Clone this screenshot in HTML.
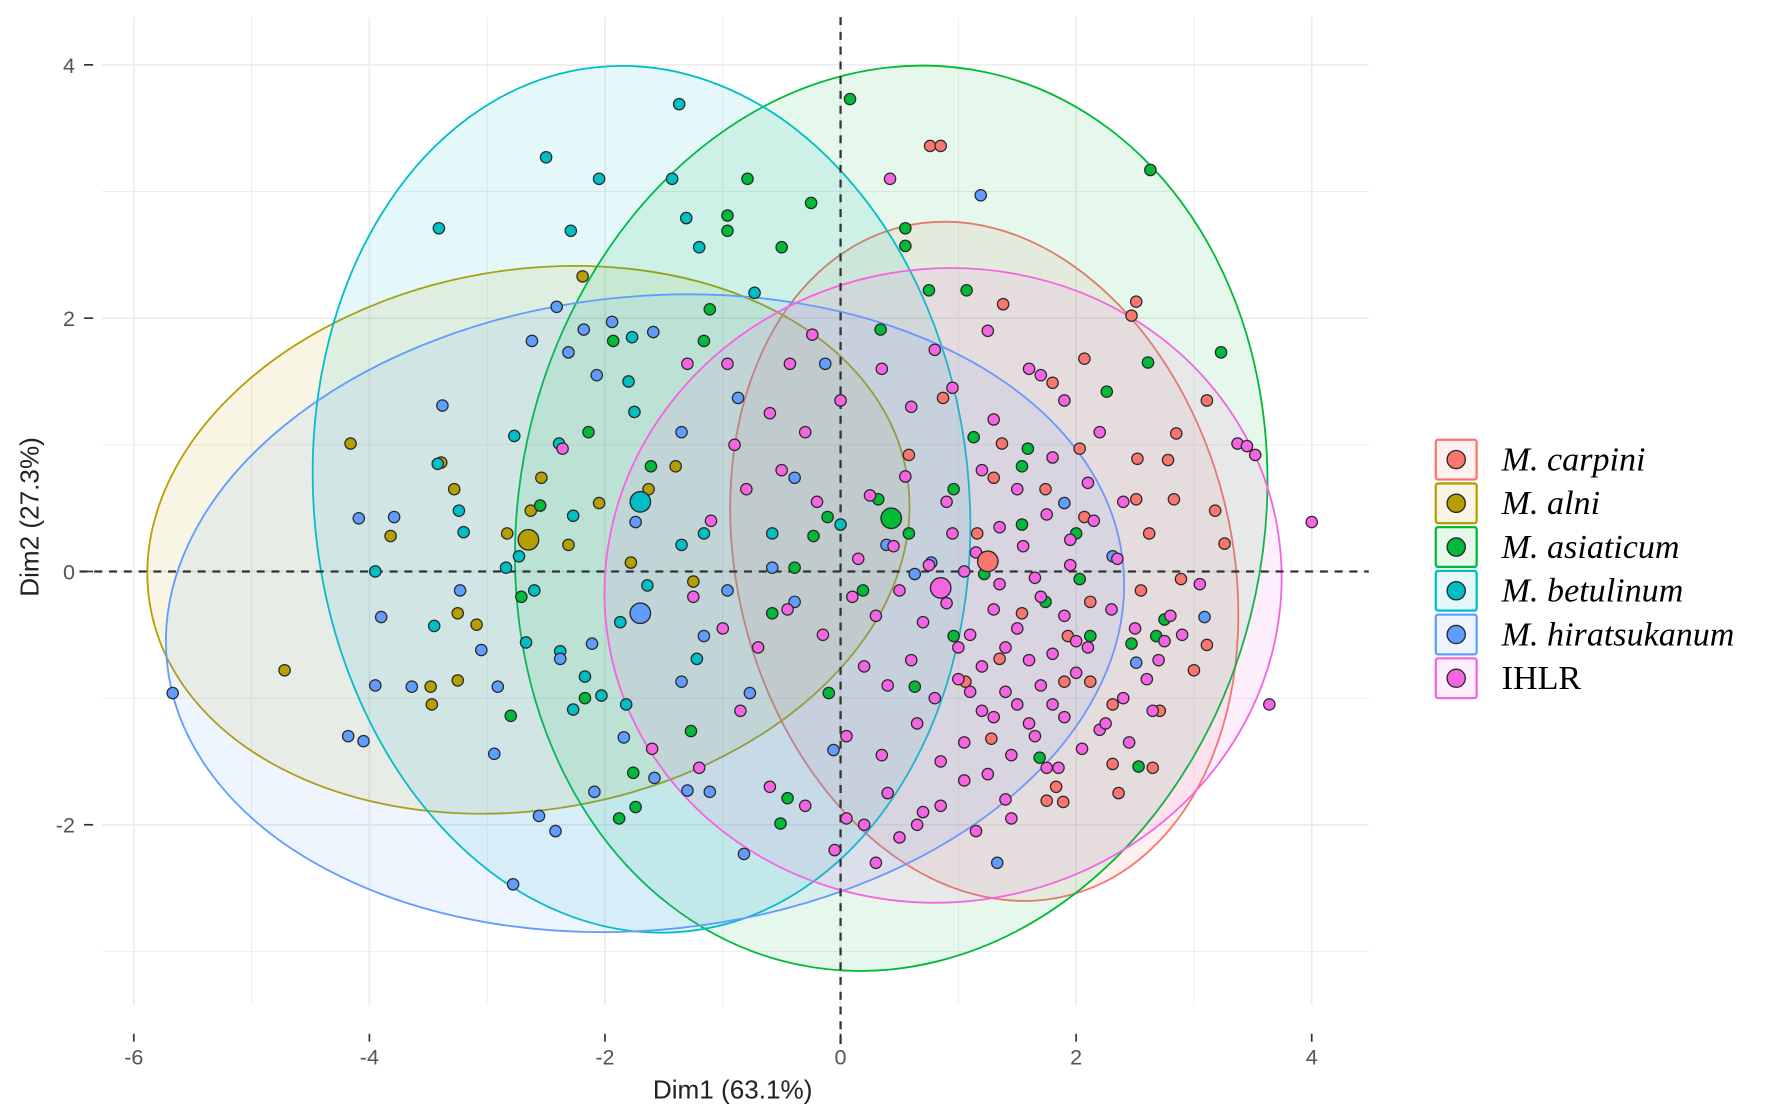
<!DOCTYPE html>
<html><head><meta charset="utf-8"><style>
html,body{margin:0;padding:0;background:#fff;}
svg{display:block;}
</style></head><body>
<svg id="chart" width="1772" height="1110" viewBox="0 0 1560 977" xmlns="http://www.w3.org/2000/svg">
<g id="grid"></g>
<g id="ellipses"></g>
<g id="refs"></g>
<g id="points"></g>
<g id="axes"></g>
<g id="legend"></g>
</svg>
<script>
const groups = ["M. carpini","M. alni","M. asiaticum","M. betulinum","M. hiratsukanum","IHLR"];
const colors = ["#F8766D","#B79F00","#00BA38","#00BFC4","#619CFF","#F564E3"];
const xTicks = [-6,-4,-2,0,2,4];
const yTicks = [-2,0,2,4];
const centroidX = [1.25,-2.65,0.43,-1.7,-1.7,0.85];
const centroidY = [0.08,0.25,0.42,0.55,-0.33,-0.13];
const ellCX = [1.22,-2.65,0.43,-1.69,-1.66,0.87];
const ellCY = [0.08,0.25,0.42,0.57,-0.33,-0.11];
const ellRX = [2.1,3.26,3.16,2.78,4.08,2.88];
const ellRY = [2.72,2.13,3.6,3.43,2.5,2.5];
const ellAngle = [-14,-10,12,-6,-6,-10];

const carpiniX = [0.76,0.85,1.38,2.47,2.51,1.8,2.07,2.52,2.85,3.11,2.78,2.83,3.18,3.26,3.11,2.71,2.65,2.36,2.31,1.83,1.75,1.89,1.28,1.9,2.12,2.07,1.37,1.3,1.74,2.03,2.51,2.12,2.55,2.89,1.16,1.54,1.93,1.35,1.06,2.31,0.87,0.58,3.0,2.62];
const carpiniY = [3.36,3.36,2.11,2.02,2.13,1.49,1.68,0.89,1.09,1.35,0.88,0.57,0.48,0.22,-0.58,-1.1,-1.55,-1.75,-1.52,-1.7,-1.81,-1.82,-1.32,-0.87,-0.87,0.43,1.01,0.74,0.65,0.97,0.57,-0.24,-0.15,-0.06,0.3,-0.33,-0.51,-0.69,-0.87,-1.05,1.37,0.92,-0.78,0.3];
const alniX = [-4.72,-4.16,-3.39,-3.82,-3.48,-3.25,-3.25,-3.28,-2.83,-2.54,-2.19,-2.05,-1.63,-1.4,-2.63,-3.47,-3.09,-1.25,-2.31,-1.78];
const alniY = [-0.78,1.01,0.86,0.28,-0.91,-0.86,-0.33,0.65,0.3,0.74,2.33,0.54,0.65,0.83,0.48,-1.05,-0.42,-0.08,0.21,0.07];
const asiaticumX = [0.08,-0.79,-0.25,-0.96,-0.96,-0.5,0.55,0.55,2.63,0.75,1.07,3.23,2.61,2.26,-1.11,0.34,-1.16,-1.93,-1.61,-2.14,-2.55,-2.71,-2.8,-2.17,-1.88,-1.74,-1.76,-1.27,-0.51,-0.45,-0.23,-0.11,0.32,0.63,0.58,0.96,1.13,1.59,1.54,1.22,1.54,1.74,2.03,2.12,2.0,2.68,2.75,2.47,1.69,2.53,0.96,-0.58,-0.39,0.19,-0.1];
const asiaticumY = [3.73,3.1,2.91,2.81,2.69,2.56,2.71,2.57,3.17,2.22,2.22,1.73,1.65,1.42,2.07,1.91,1.82,1.82,0.83,1.1,0.52,-0.2,-1.14,-1.0,-1.95,-1.86,-1.59,-1.26,-1.99,-1.79,0.28,0.43,0.57,-0.91,0.3,0.65,1.06,0.97,0.83,-0.02,0.37,-0.24,-0.06,-0.51,0.3,-0.51,-0.38,-0.57,-1.47,-1.54,-0.51,-0.33,0.03,-0.15,-0.96];
const betulinumX = [-1.37,-2.5,-2.05,-1.43,-3.41,-2.29,-1.31,-1.2,-1.77,-1.8,-1.75,-2.39,-2.77,-3.42,-3.24,-2.73,-3.95,-2.67,-3.45,-2.27,-2.03,-1.82,-2.17,-2.38,-1.22,-1.87,-1.64,-2.27,-1.35,-0.73,-0.58,0.0,-1.16,-2.84,-3.2,-2.6];
const betulinumY = [3.69,3.27,3.1,3.1,2.71,2.69,2.79,2.56,1.85,1.5,1.26,1.01,1.07,0.85,0.48,0.12,0.0,-0.56,-0.43,-1.09,-0.98,-1.05,-0.83,-0.63,-0.69,-0.4,-0.11,0.44,0.21,2.2,0.3,0.37,0.3,0.03,0.31,-0.15];
const hiraX = [-5.67,-4.18,-4.05,-4.09,-3.9,-3.95,-3.79,-3.64,-3.38,-3.23,-3.05,-2.91,-2.94,-2.78,-2.56,-2.42,-2.38,-2.11,-2.09,-1.84,-1.58,-1.3,-1.11,-0.82,-1.35,-1.16,-0.96,-0.58,-0.39,-0.06,-0.77,-2.41,-2.18,-1.94,-1.59,-2.62,-2.31,-2.07,1.19,1.33,2.51,3.09,-0.13,1.9,2.31,0.77,0.63,0.39,-0.39,-0.87,-1.35,-1.74];
const hiraY = [-0.96,-1.3,-1.34,0.42,-0.36,-0.9,0.43,-0.91,1.31,-0.15,-0.62,-0.91,-1.44,-2.47,-1.93,-2.05,-0.69,-0.57,-1.74,-1.31,-1.63,-1.73,-1.74,-2.23,-0.87,-0.51,-0.15,0.03,-0.24,-1.41,-0.96,2.09,1.91,1.97,1.89,1.82,1.73,1.55,2.97,-2.3,-0.72,-0.36,1.64,0.54,0.12,0.07,-0.02,0.21,0.74,1.37,1.1,0.39];
const ihlrX = [4.0,3.64,3.37,3.45,3.52,0.42,-0.24,-0.43,-0.96,-1.3,-2.36,
 0.1,0.3,0.5,0.7,0.9,1.1,1.3,1.5,1.7,1.9,2.1,2.3,2.5,2.7,2.9,
 0.2,0.4,0.6,0.8,1.0,1.2,1.4,1.6,1.8,2.0,2.2,2.4,2.6,2.8,
 0.05,0.35,0.65,0.85,1.05,1.25,1.45,1.65,1.85,2.05,2.25,2.45,2.65,
 0.15,0.45,0.75,0.95,1.15,1.35,1.55,1.75,1.95,2.15,2.35,
 0.25,0.55,0.9,1.2,1.5,1.8,2.1,2.4,
 -0.2,-0.5,-0.8,-1.1,-0.3,-0.6,-0.9,0.0,-0.15,-0.45,-0.7,-1.0,-1.25,
 0.6,0.95,1.3,1.6,1.9,2.2,0.35,0.8,1.25,1.7,
 -0.6,-0.3,0.05,0.4,0.7,1.05,1.4,1.75,2.75,3.05,
 0.2,0.5,0.85,1.15,1.45,-0.05,0.3,0.65,-1.6,-1.2,-0.85,
 1.0,1.2,1.4,1.6,1.8,2.0,1.1,1.3,1.5,1.7,1.9,1.05,1.35,1.65,1.95];
const ihlrY = [0.39,-1.05,1.01,0.99,0.92,3.1,1.87,1.64,1.64,1.64,0.97,
 -0.2,-0.35,-0.15,-0.4,-0.25,-0.5,-0.3,-0.45,-0.2,-0.35,-0.6,-0.3,-0.45,-0.7,-0.5,
 -0.75,-0.9,-0.7,-1.0,-0.85,-1.1,-0.95,-1.2,-1.05,-0.8,-1.25,-1.0,-0.85,-0.35,
 -1.3,-1.45,-1.2,-1.5,-1.35,-1.6,-1.45,-1.3,-1.55,-1.4,-1.2,-1.35,-1.1,
 0.1,0.2,0.05,0.3,0.15,0.35,0.2,0.45,0.25,0.4,0.1,
 0.6,0.75,0.55,0.8,0.65,0.9,0.7,0.55,
 0.55,0.8,0.65,0.4,1.1,1.25,1.0,1.35,-0.5,-0.3,-0.6,-0.45,-0.2,
 1.3,1.45,1.2,1.6,1.35,1.1,1.6,1.75,1.9,1.55,
 -1.7,-1.85,-1.95,-1.75,-1.9,-1.65,-1.8,-1.55,-0.55,-0.1,
 -2.0,-2.1,-1.85,-2.05,-1.95,-2.2,-2.3,-2.0,-1.4,-1.55,-1.1,
 -0.6,-0.75,-0.6,-0.7,-0.65,-0.55,-0.95,-1.15,-1.05,-0.9,-1.15,0.0,-0.1,-0.05,0.05];
const seriesX = [carpiniX, alniX, asiaticumX, betulinumX, hiraX, ihlrX];
const seriesY = [carpiniY, alniY, asiaticumY, betulinumY, hiraY, ihlrY];

const NS = "http://www.w3.org/2000/svg";
const X0 = 740, XU = 103.7, Y0 = 503, YU = 111.5;
function sx(v){ return X0 + v*XU; }
function sy(v){ return Y0 - v*YU; }
function mk(tag, attrs, parent){
  const e = document.createElementNS(NS, tag);
  for (const k in attrs) e.setAttribute(k, attrs[k]);
  parent.appendChild(e); return e;
}
const PL = 90, PR = 1205, PT = 15, PB = 885;
const grid = document.getElementById('grid');
for (let v=-6; v<=4; v++){
  const l = mk('line',{x1:sx(v),x2:sx(v),y1:PT,y2:PB,stroke:'#ebebeb','stroke-width':v%2===0?1.4:0.8},grid);
  
  
}
for (let v=-3; v<=4; v++){
  const l = mk('line',{x1:PL,x2:PR,y1:sy(v),y2:sy(v),stroke:'#ebebeb','stroke-width':v%2===0?1.4:0.8},grid);
  
  
}
const eg = document.getElementById('ellipses');
for (let i=0;i<groups.length;i++){
  const cx = sx(ellCX[i]), cy = sy(ellCY[i]);
  const e = mk('ellipse',{cx:cx,cy:cy,rx:ellRX[i]*XU,ry:ellRY[i]*YU,fill:colors[i],'fill-opacity':0.1,stroke:colors[i],'stroke-width':1.6,transform:`rotate(${ellAngle[i]} ${cx} ${cy})`},eg);
  
  
}
const rg = document.getElementById('refs');
const hl = mk('line',{x1:PL-20,x2:PR,y1:sy(0),y2:sy(0),stroke:'#333','stroke-width':2,'stroke-dasharray':'7,6'},rg);


const vl = mk('line',{x1:sx(0),x2:sx(0),y1:PT,y2:PB+40,stroke:'#333','stroke-width':2,'stroke-dasharray':'7,6'},rg);


const pg = document.getElementById('points');
for (let i=0;i<groups.length;i++){
  const xs = seriesX[i], ys = seriesY[i];
  for (let j=0;j<xs.length;j++){
    const c = mk('circle',{cx:sx(xs[j]),cy:sy(ys[j]),r:5,fill:colors[i],stroke:'#2a2a2a','stroke-width':1.1},pg);
    
    
  }
}
for (let i=0;i<groups.length;i++){
  const c = mk('circle',{cx:sx(centroidX[i]),cy:sy(centroidY[i]),r:9,fill:colors[i],stroke:'#2a2a2a','stroke-width':1.2},pg);
  
  
}
const ax = document.getElementById('axes');
for (const v of xTicks){
  const t = mk('line',{x1:sx(v),x2:sx(v),y1:PB+25,y2:PB+32,stroke:'#333','stroke-width':1.5},ax);
  
  
  const tx = mk('text',{x:sx(v),y:PB+52,'text-anchor':'middle','font-size':19,fill:'#555','font-family':'Liberation Sans, sans-serif'},ax);
  tx.textContent = String(v);
  
  
}
for (const v of yTicks){
  const t = mk('line',{x1:74,x2:82,y1:sy(v),y2:sy(v),stroke:'#333','stroke-width':1.5},ax);
  
  
  const tx = mk('text',{x:66,y:sy(v)+7,'text-anchor':'end','font-size':19,fill:'#555','font-family':'Liberation Sans, sans-serif'},ax);
  tx.textContent = String(v);
  
  
}
const xt = mk('text',{x:645,y:967,'text-anchor':'middle','font-size':23,fill:'#222','font-family':'Liberation Sans, sans-serif'},ax);
xt.textContent = 'Dim1 (63.1%)';


const yt = mk('text',{x:0,y:0,'text-anchor':'middle','font-size':23,fill:'#222','font-family':'Liberation Sans, sans-serif',transform:'translate(34,455) rotate(-90)'},ax);
yt.textContent = 'Dim2 (27.3%)';


const lg = document.getElementById('legend');
for (let i=0;i<groups.length;i++){
  const y = 387 + i*38.5;
  const entry = mk('g',{},lg);
  
  
  mk('rect',{x:1264,y:y,width:36,height:35,fill:colors[i],'fill-opacity':0.1,stroke:colors[i],'stroke-width':2,rx:2},entry);
  mk('circle',{cx:1282,cy:y+17.5,r:8,fill:colors[i],stroke:'#2a2a2a','stroke-width':1.2},entry);
  const t = mk('text',{x:1322,y:y+27,'font-size':30,fill:'#000','font-family':'Liberation Serif, serif','font-style':i<5?'italic':'normal'},entry);
  t.textContent = groups[i];
}
</script>
</body></html>
